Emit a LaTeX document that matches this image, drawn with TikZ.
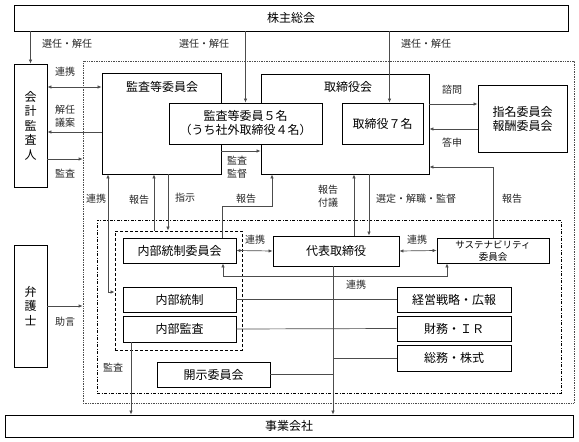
\documentclass[tikz,border=0pt]{standalone}
\usepackage{fontspec}
\setmainfont{Noto Sans CJK JP}
\usepackage{tikz}
\usetikzlibrary{arrows.meta,calc,positioning}

\begin{document}
\begin{tikzpicture}[x=1pt,y=-1pt,>={Latex[length=4pt,width=3.5pt]}]
	\tikzstyle{block} = [draw, rectangle, line width=0.9pt, fill=white, inner sep=1pt, font=\fontsize{12}{14}\selectfont, align=center]
	\tikzstyle{lbl} = [inner sep=1pt, font=\fontsize{10}{13}\selectfont, text=black!85, align=center]
	\tikzstyle{conn} = [draw=black!70, line width=0.7pt]
	
	\useasboundingbox (0,0) rectangle (579,442);
	
	% frames
	\node [draw=black!70, densely dotted, line width=0.7pt, minimum width=491, minimum height=342] (gov) at (328.5,232) {};
	\node [draw, line width=0.8pt, dash pattern=on 3pt off 1.5pt on 1pt off 1.5pt, minimum width=464, minimum height=173] (exec) at (329,306.5) {};
	\node [draw, line width=1pt, dash pattern=on 3pt off 2pt, minimum width=127, minimum height=119] (naibu) at (178.5,290.5) {};
	
	\node [block, minimum width=554, minimum height=26] (kabu) at (291,18) {株主総会};
	\node [block, minimum width=568, minimum height=22] (jigyo) at (289,426) {事業会社};
	\node [block, minimum width=33, minimum height=123, font=\fontsize{12}{14.5}\selectfont] (kaikei) at (30.5,125.5) {会\\計\\監\\査\\人};
	\node [block, minimum width=33, minimum height=122, font=\fontsize{12}{14.5}\selectfont] (bengo) at (30.5,306) {弁\\護\\士};
	
	\node [block, minimum width=119, minimum height=101] (kansa) at (161.5,123.5) {};
	\node [font=\fontsize{12}{14}\selectfont] (kansatitle) at (162,87) {監査等委員会};
	\node [block, minimum width=168, minimum height=100] (tori) at (345,124) {};
	\node [font=\fontsize{12}{14}\selectfont] (torititle) at (348,87) {取締役会};
	\node [block, minimum width=153, minimum height=41] (iin5) at (245.5,123.5) {監査等委員５名\\（うち社外取締役４名）};
	\node [block, minimum width=81, minimum height=41] (tori7) at (382.5,123.5) {取締役７名};
	\node [block, minimum width=89, minimum height=67] (shimei) at (522.5,118.5) {指名委員会\\報酬委員会};
	
	\node [block, minimum width=113, minimum height=25] (naiiin) at (179.5,250.5) {内部統制委員会};
	\node [block, minimum width=126, minimum height=30] (daihyo) at (336,251) {代表取締役};
	\node [block, minimum width=112, minimum height=25, font=\fontsize{9.5}{12}\selectfont] (susta) at (493,250.5) {サステナビリティ\\委員会};
	\node [block, minimum width=113, minimum height=25] (naibutosei) at (179.5,299.5) {内部統制};
	\node [block, minimum width=113, minimum height=26] (naibukansa) at (179.5,329) {内部監査};
	\node [block, minimum width=113, minimum height=25] (kaiji) at (213.5,374.5) {開示委員会};
	\node [block, minimum width=114, minimum height=25] (keiei) at (454,299.5) {経営戦略・広報};
	\node [block, minimum width=114, minimum height=25] (zaimu) at (454,328.5) {財務・ＩＲ};
	\node [block, minimum width=114, minimum height=26] (somu) at (454,358) {総務・株式};
	
	\coordinate (t7in) at ([xshift=7pt]tori7.north);
	
	% shareholders
	\draw [conn,->] (kabu.south -| kaikei) -- (kaikei.north);
	\draw [conn,->] (kabu.south -| iin5) -- (iin5.north);
	\draw [conn,->] (kabu.south -| t7in) -- (t7in);
	
	% auditors, lawyer
	\draw [conn,<->] (kaikei.east |- 0,87) -- (kansa.west |- 0,87);
	\draw [conn,->] (kansa.west |- 0,132) -- (kaikei.east |- 0,132);
	\draw [conn,->] (kaikei.east |- 0,159) -- (gov.west |- 0,159);
	\draw [conn,->] (bengo.east) -- (bengo.east -| gov.west);
	
	% board
	\draw [conn,->] (kansa.east |- 0,151) -- (tori.west |- 0,151);
	\draw [conn,->] (tori.east |- 0,104) -- (shimei.west |- 0,104);
	\draw [conn,->] (shimei.west |- 0,129) -- (tori.east |- 0,129);
	
	\draw [conn,<->] (kansa.south -| 108,0) -- (108,292) -- (naibu.west |- 0,292);
	\draw [conn,->] (naibu.north -| 154,0) -- (kansa.south -| 154,0);
	\draw [conn,->] (kansa.south -| 168,0) -- (naibu.north -| 168,0);
	\draw [conn,->] (naiiin.north -| 222,0) |- (272,206) -- (tori.south -| 272,0);
	\draw [conn,->] (daihyo.north -| 354,0) -- (tori.south -| 354,0);
	\draw [conn,->] (tori.south -| 369,0) -- (daihyo.north -| 369,0);
	\draw [conn,->] (susta.north) |- (tori.east |- 0,167);
	
	% executive
	\draw [conn,<->] (naiiin.east) -- (daihyo.west);
	\draw [conn,<->] (daihyo.east) -- (susta.west);
	\draw [conn,<->] (naiiin.south -| 223,0) |- (447,276) -- (susta.south -| 447,0);
	\draw [conn,->] (daihyo.south -| 333,0) -- (jigyo.north -| 333,0);
	\draw [conn] (naibutosei.east) -- (keiei.west);
	\draw [conn] (naibukansa.east) -- (zaimu.west);
	\draw [conn] (somu.west) -- (somu.west -| 333,0);
	\draw [conn] (kaiji.east) -- (kaiji.east -| 333,0);
	\draw [conn,->] (naibukansa.south -| 131,0) -- (jigyo.north -| 131,0);
	
	% labels
	\node [lbl] (lsen1) at (67,44) {選任・解任};
	\node [lbl] (lsen2) at (204,44) {選任・解任};
	\node [lbl] (lsen3) at (426,44) {選任・解任};
	\node [lbl] (lren1) at (65,72) {連携};
	\node [lbl] (lkai) at (65,116) {解任\\議案};
	\node [lbl] (lkan1) at (65,174) {監査};
	\node [lbl] (ljo) at (65,322) {助言};
	\node [lbl] (lkank) at (237,167) {監査\\監督};
	\node [lbl] (lshi) at (452,90) {諮問};
	\node [lbl] (lto) at (452,143) {答申};
	\node [lbl] (lren2) at (96,199) {連携};
	\node [lbl] (lhou1) at (139,200) {報告};
	\node [lbl] (lshiji) at (185,198) {指示};
	\node [lbl] (lhou2) at (246,199) {報告};
	\node [lbl] (lhou3) at (328,196) {報告\\付議};
	\node [lbl] (lsen4) at (416,199) {選定・解職・監督};
	\node [lbl] (lhou4) at (512,199) {報告};
	\node [lbl] (lren3) at (255,240) {連携};
	\node [lbl] (lren4) at (417,240) {連携};
	\node [lbl] (lren5) at (356,285) {連携};
	\node [lbl] (lkan2) at (113,368) {監査};
	
\end{tikzpicture}
\end{document}
